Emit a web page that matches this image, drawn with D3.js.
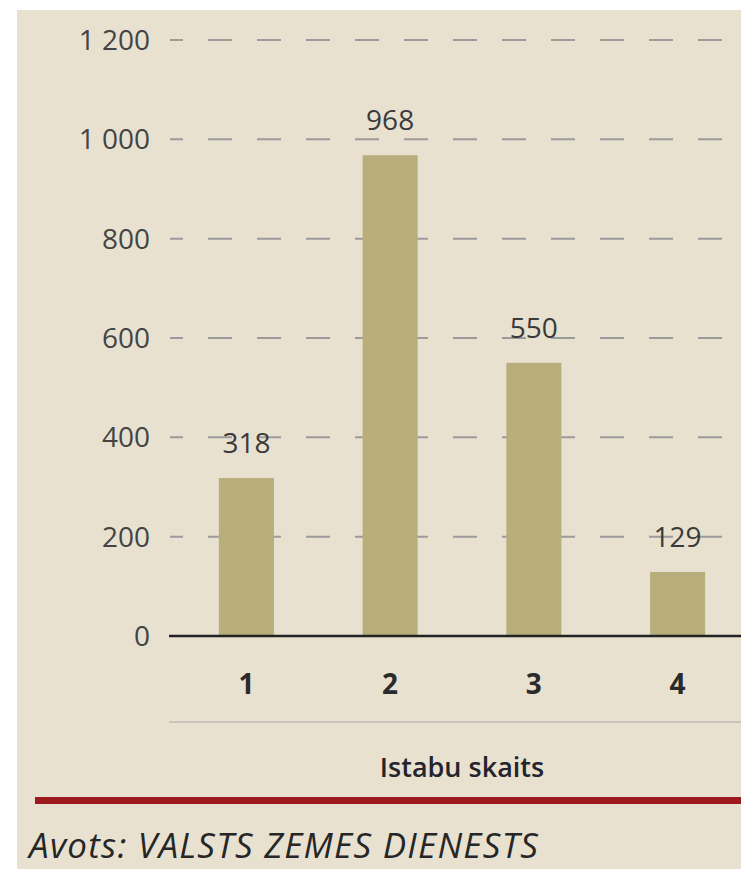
<!DOCTYPE html>
<html>
<head>
<meta charset="utf-8">
<script src="https://d3js.org/d3.v7.min.js"></script>
<style>
  body { margin: 0; background: #fff; }
  svg { display: block; }
  text { font-family: "Open Sans", "Noto Sans", sans-serif; }
</style>
</head>
<body>
<div id="chart"></div>
<script>
// istabu skaits -> skaits
var categories = ["1", "2", "3", "4"]
var values = [318, 968, 550, 129]
var yTicks = [0, 200, 400, 600, 800, 1000, 1200]
var xTitle = "Istabu skaits"
var source = "Avots: VALSTS ZEMES DIENESTS"

var W = 741, H = 869

var svg = d3.select("#chart").append("svg")
            .attr("width", W)
            .attr("height", H)

// beige panel
svg.append("rect")
   .attr("x", 17).attr("y", 10)
   .attr("width", W - 17).attr("height", H - 10)
   .attr("fill", "#e8e1d0")

var y = d3.scaleLinear().domain([0, 1200]).range([636, 40])
var x = d3.scaleBand().domain(categories).range([170, 754])
          .paddingInner(0.617).paddingOuter(0.34)

var fmt = function(d) { return d3.format(",")(d).replace(/,/g, " ") }

// dashed gridlines
svg.append("g").selectAll("line")
   .data(yTicks.filter(function(d) { return d > 0 }))
   .enter().append("line")
   .attr("x1", 170).attr("x2", W)
   .attr("y1", function(d) { return y(d) })
   .attr("y2", function(d) { return y(d) })
   .attr("stroke", "#9d9a9c")
   .attr("stroke-width", 2)
   .attr("stroke-dasharray", "24,25")
   .attr("stroke-dashoffset", 11)

// y tick labels
svg.append("g").selectAll("text")
   .data(yTicks)
   .enter().append("text")
   .attr("x", 150)
   .attr("y", function(d) { return y(d) })
   .attr("dy", "0.36em")
   .attr("text-anchor", "end")
   .attr("font-size", 28)
   .attr("fill", "#444")
   .text(fmt)

// bars
svg.append("g").selectAll("rect")
   .data(values)
   .enter().append("rect")
   .attr("x", function(d, i) { return x(categories[i]) })
   .attr("width", x.bandwidth())
   .attr("y", function(d) { return y(d) })
   .attr("height", function(d) { return y(0) - y(d) })
   .attr("fill", "#b8ae7b")

// value labels
svg.append("g").selectAll("text")
   .data(values)
   .enter().append("text")
   .attr("x", function(d, i) { return x(categories[i]) + x.bandwidth() / 2 })
   .attr("y", function(d) { return y(d) - 25 })
   .attr("text-anchor", "middle")
   .attr("font-size", 28)
   .attr("fill", "#3a3a3a")
   .text(function(d) { return d })

// baseline
svg.append("line")
   .attr("x1", 169).attr("x2", W)
   .attr("y1", y(0)).attr("y2", y(0))
   .attr("stroke", "#222")
   .attr("stroke-width", 2.5)

// x labels
svg.append("g").selectAll("text")
   .data(categories)
   .enter().append("text")
   .attr("x", function(d) { return x(d) + x.bandwidth() / 2 })
   .attr("y", 694)
   .attr("text-anchor", "middle")
   .attr("font-size", 28)
   .attr("font-weight", 700)
   .attr("fill", "#2a2a2a")
   .text(function(d) { return d })

// light separator
svg.append("line")
   .attr("x1", 169).attr("x2", W)
   .attr("y1", 722).attr("y2", 722)
   .attr("stroke", "#c9c5bc")
   .attr("stroke-width", 2)

svg.append("text")
   .attr("x", 462).attr("y", 777)
   .attr("text-anchor", "middle")
   .attr("font-size", 27)
   .attr("font-weight", 600)
   .attr("fill", "#24242c")
   .text(xTitle)

// red rule
svg.append("rect")
   .attr("x", 35).attr("y", 797)
   .attr("width", W - 35).attr("height", 7)
   .attr("fill", "#9c1a1d")

svg.append("text")
   .attr("x", 29).attr("y", 858)
   .attr("font-size", 35)
   .attr("font-style", "italic")
   .attr("fill", "#262626")
   .attr("textLength", 509)
   .attr("lengthAdjust", "spacing")
   .text(source)
</script>
</body>
</html>
